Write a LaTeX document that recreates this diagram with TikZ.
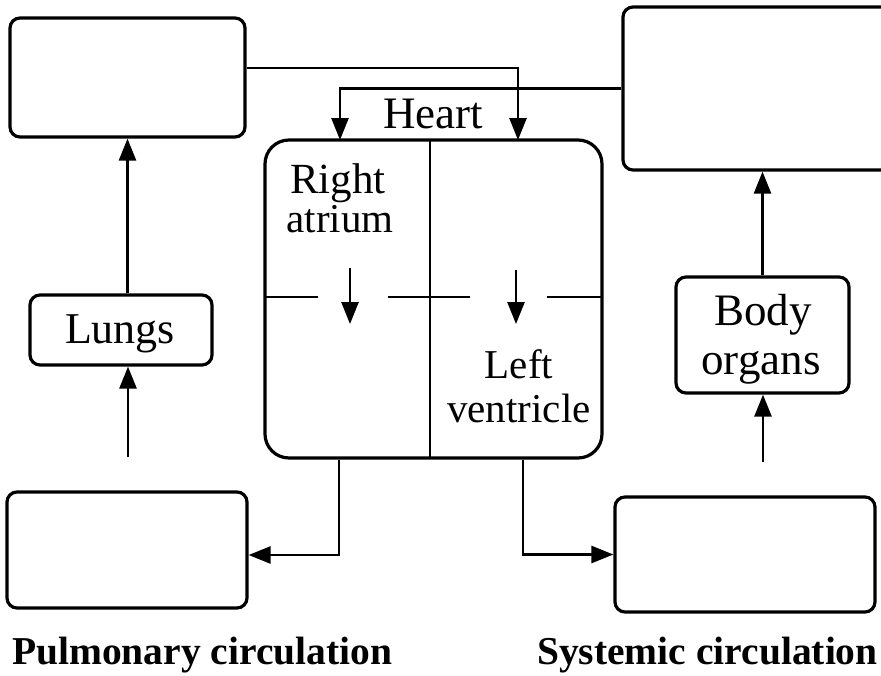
\documentclass[tikz,border=0pt]{standalone}
\usepackage{fontspec}
\setmainfont{Liberation Serif}
\usetikzlibrary{arrows.meta,calc}
\begin{document}
\begin{tikzpicture}[x=1pt,y=-1pt,
  box/.style={draw, line width=3.2pt, rounded corners=10pt, inner sep=0pt},
  conn/.style={line width=2.6pt, -{Triangle[length=22pt,width=17pt]}},
  plain/.style={line width=2.6pt},
  lab/.style={font=\fontsize{43}{50}\selectfont, inner sep=0pt},
  labs/.style={font=\fontsize{41}{48}\selectfont, inner sep=0pt},
  capt/.style={font=\bfseries\fontsize{39.5}{46}\selectfont, inner sep=0pt}]
\useasboundingbox (0,0) rectangle (881,675);
\clip (0,0) rectangle (881,675);
% boxes
\node[box, minimum width=235pt, minimum height=119pt] (tl) at (127.5,77.5) {};
\node[box, minimum width=272pt, minimum height=163pt] (tr) at (759,88.5) {};
\node[box, minimum width=182pt, minimum height=70pt] (lungs) at (121,330) {};
\node[box, minimum width=173pt, minimum height=116pt] (bo) at (762.5,335) {};
\node[box, minimum width=240pt, minimum height=116pt] (bl) at (127,550) {};
\node[box, minimum width=260pt, minimum height=115pt] (br) at (745,554.5) {};
\node[box, rounded corners=24pt, minimum width=337pt, minimum height=318pt] (heart) at (433.5,299) {};
% labels
\node[lab, font=\fontsize{45}{50}\selectfont, anchor=base] (theart) at (433,128) {Heart};
\node[lab, anchor=base] (tright) at (338,193) {Right};
\node[labs, anchor=base] (tatrium) at (340,232) {atrium};
\node[labs, anchor=base] (tleft) at (519,378) {Left};
\node[labs, anchor=base] (tvent) at (519,422) {ventricle};
\node[lab, font=\fontsize{44}{50}\selectfont, anchor=base] (tlungs) at (120,343) {Lungs};
\node[lab, font=\fontsize{45}{50}\selectfont, anchor=base] (tbody) at (763,325) {Body};
\node[lab, font=\fontsize{45}{50}\selectfont, anchor=base] (torgans) at (761,374) {organs};
\node[capt, anchor=base west] (tpul) at (12,664) {Pulmonary circulation};
\node[capt, anchor=base west] (tsys) at (537,664) {Systemic circulation};
% heart interior
\draw[plain] (430,140) -- (430,458);
\draw[plain] (265,297) -- (318,297);
\draw[plain] (388,297) -- (470,297);
\draw[plain] (547,297) -- (602,297);
\coordinate (ra1) at (350,268);
\coordinate (ra2) at (350,324);
\coordinate (lv1) at (516,270);
\coordinate (lv2) at (516,324);
\draw[conn] (ra1) -- (ra2);
\draw[conn] (lv1) -- (lv2);
% connectors
\coordinate (la) at (518,140);
\coordinate (ra) at (340,140);
\draw[conn] ($(tl.east)+(0,-9.5)$) -| (la);
\draw[conn] (tr.west) -| (ra);
\draw[conn] (tl.south |- lungs.north) -- (tl.south);
\coordinate (lin) at (128,457);
\draw[conn] (lin) -- (lin |- lungs.south);
\coordinate (hb1) at (339,0);
\coordinate (hb2) at (523,0);
\draw[conn] (heart.south -| hb1) |- ($(bl.east)+(0,5)$);
\draw[conn] (heart.south -| hb2) |- (br.west);
\coordinate (bin) at (763,462);
\draw[conn] (bin) -- (bin |- bo.south);
\draw[conn] (bo.north) -- (bo.north |- tr.south);
\end{tikzpicture}
\end{document}
